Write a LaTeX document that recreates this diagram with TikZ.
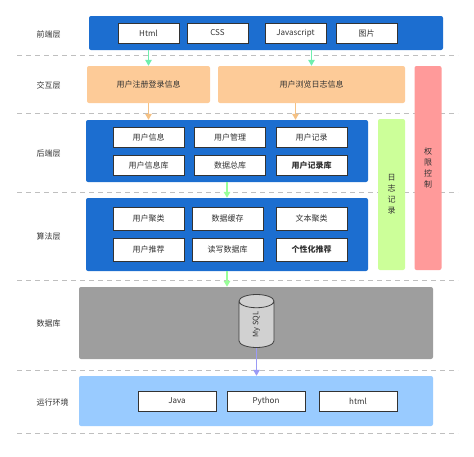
\documentclass[tikz,border=0pt]{standalone}
\usepackage{fontspec}
\setmainfont{Noto Sans CJK SC}
\usepackage{xcolor}
\usetikzlibrary{arrows.meta,positioning,shapes.geometric,calc}

\definecolor{feblue}{HTML}{1C6ED0}
\definecolor{peach}{HTML}{FDCB98}
\definecolor{rose}{HTML}{FF9A9A}
\definecolor{lime}{HTML}{CCFF99}
\definecolor{dbgray}{HTML}{9E9E9E}
\definecolor{sky}{HTML}{99CBFF}
\definecolor{txt}{HTML}{333333}
\definecolor{mint}{HTML}{6FEFAE}
\definecolor{leaf}{HTML}{99FF99}
\definecolor{tan}{HTML}{F5C184}
\definecolor{lilac}{HTML}{9A9AF5}

\begin{document}
\begin{tikzpicture}[x=1pt, y=-1pt,
  lay/.style={rounded corners=2pt, inner sep=0pt, text=txt, font=\fontsize{8}{9}\selectfont},
  box/.style={draw=txt, thick, fill=white, minimum width=71pt, minimum height=20pt, inner sep=0pt, text=txt, font=\fontsize{8}{9}\selectfont},
  side/.style={lay, align=center, minimum width=27pt, font=\fontsize{8}{11}\selectfont},
  tag/.style={anchor=west, text=txt, font=\fontsize{8}{9}\selectfont},
  ar/.style={-{Triangle[length=6pt, width=6.5pt]}, line width=1.6pt}
]
\useasboundingbox (0,0) rectangle (474,456);

% separators
\foreach \y in {55,113,192,280,370,433}
  \draw[black!25, dash pattern=on 5pt off 4pt] (17,\y) -- (458,\y);

% layer names
\node[tag] (l1) at (33,34) {前端层};
\node[tag] (l2) at (33,85) {交互层};
\node[tag] (l3) at (33,153) {后端层};
\node[tag] (l4) at (33,236) {算法层};
\node[tag] (l5) at (33,323) {数据库};
\node[tag] (l6) at (33,402) {运行环境};

% front end
\node[lay, fill=feblue, minimum width=354pt, minimum height=34pt] (fe) at (266,33) {};
\node[box, minimum width=61pt] (html) at (148.5,33) {Html};
\node[box, minimum width=61pt] (css) at (217.5,33) {CSS};
\node[box, minimum width=61pt] (js) at (295.5,33) {Javascript};
\node[box, minimum width=61pt] (img) at (366.5,33) {图片};

% interaction
\node[lay, fill=peach, minimum width=123pt, minimum height=37pt] (reg) at (148.5,84.5) {用户注册登录信息};
\node[lay, fill=peach, minimum width=187pt, minimum height=37pt] (browse) at (311.5,84.5) {用户浏览日志信息};

% side bars
\node[side, fill=rose, minimum height=204pt] (perm) at (428,168) {权\\限\\控\\制};
\node[side, fill=lime, minimum height=151pt] (log) at (391.5,194.5) {日\\志\\记\\录};

% back end
\node[lay, fill=feblue, minimum width=282pt, minimum height=62pt] (be) at (227,151) {};
\node[box] (uinfo) at (148.5,137) {用户信息};
\node[box] (umgr) at (230,137) {用户管理};
\node[box] (urec) at (311.5,137) {用户记录};
\node[box] (uinfodb) at (148.5,165) {用户信息库};
\node[box] (alldb) at (230,165) {数据总库};
\node[box, font=\fontsize{8}{9}\selectfont\bfseries] (urecdb) at (311.5,165) {用户记录库};

% algorithms
\node[lay, fill=feblue, minimum width=282pt, minimum height=73pt] (alg) at (227,234.5) {};
\node[box, minimum height=23pt] (ucl) at (148.5,218.5) {用户聚类};
\node[box, minimum height=23pt] (cache) at (227.5,218.5) {数据缓存};
\node[box, minimum height=23pt] (tcl) at (311.5,218.5) {文本聚类};
\node[box, minimum height=23pt] (urecm) at (148.5,249.5) {用户推荐};
\node[box, minimum height=23pt] (rw) at (227.5,249.5) {读写数据库};
\node[box, minimum height=23pt, font=\fontsize{8}{9}\selectfont\bfseries] (pers) at (311.5,249.5) {个性化推荐};

% database
\node[lay, fill=dbgray, minimum width=354pt, minimum height=72pt] (db) at (256,323) {};
\node[cylinder, draw=black!75, thick, fill=black!18, rotate=90, minimum width=35pt, minimum height=53pt,
  aspect=1.8, inner sep=0pt, text=txt, font=\fontsize{7.5}{8}\selectfont] (sql) at (256.5,324.5) {My SQL};

% runtime
\node[lay, fill=sky, minimum width=354pt, minimum height=50pt] (run) at (256,401) {};
\node[box, minimum width=78pt] (java) at (177,401) {Java};
\node[box, minimum width=78pt] (py) at (266,401) {Python};
\node[box, minimum width=78pt] (web) at (358,401) {html};

% flows
\draw[ar, mint] (fe.south -| html) -- (reg.north);
\draw[ar, mint] (fe.south -| browse) -- (browse.north);
\draw[ar, tan] (reg.south) -- (be.north -| reg);
\draw[ar, tan] ([xshift=-16pt]browse.south) -- (be.north -| js);
\draw[ar, leaf] (be.south) -- (alg.north);
\draw[ar, leaf] (alg.south) -- (alg.south |- db.north);
\draw[ar, lilac] (sql.west) -- (sql.west |- run.north);
\end{tikzpicture}
\end{document}
